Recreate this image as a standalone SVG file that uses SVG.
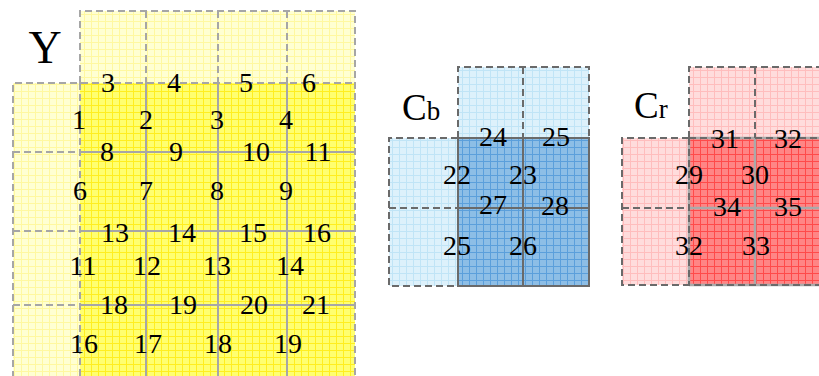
<svg xmlns="http://www.w3.org/2000/svg" width="819" height="376" viewBox="0 0 819 376">
<defs>
<pattern id="pY" width="7" height="7" patternUnits="userSpaceOnUse"><rect width="7" height="7" fill="#FFFF70"/><path d="M0 0.5H7M0.5 0V7" stroke="#FFEE20" stroke-width="1"/></pattern>
<pattern id="pYl" width="7" height="7" patternUnits="userSpaceOnUse"><rect width="7" height="7" fill="#FFFFD2"/><path d="M0 0.5H7M0.5 0V7" stroke="#FFF8A0" stroke-width="1"/></pattern>
<pattern id="pB" width="7" height="7" patternUnits="userSpaceOnUse"><rect width="7" height="7" fill="#8DBEE6"/><path d="M0 0.5H7M0.5 0V7" stroke="#5B9FDB" stroke-width="1"/></pattern>
<pattern id="pBl" width="7" height="7" patternUnits="userSpaceOnUse"><rect width="7" height="7" fill="#DDF1FB"/><path d="M0 0.5H7M0.5 0V7" stroke="#C0E4F6" stroke-width="1"/></pattern>
<pattern id="pR" width="7" height="7" patternUnits="userSpaceOnUse"><rect width="7" height="7" fill="#FF8585"/><path d="M0 0.5H7M0.5 0V7" stroke="#FF4A4A" stroke-width="1"/></pattern>
<pattern id="pRl" width="7" height="7" patternUnits="userSpaceOnUse"><rect width="7" height="7" fill="#FFDCDC"/><path d="M0 0.5H7M0.5 0V7" stroke="#FFBDBD" stroke-width="1"/></pattern>
</defs>
<style>
text{font-family:"Liberation Serif","Times New Roman",serif;fill:#000;}
.n{font-size:28px;text-anchor:middle;}
.dy{fill:none;stroke:#A6A6A6;stroke-width:2;stroke-dasharray:7 4;}
.sy{fill:none;stroke:#A6A6A6;stroke-width:2;}
.dc{fill:none;stroke:#6A6A6A;stroke-width:2;stroke-dasharray:7 4;}
.sc{fill:none;stroke:#6A6A6A;stroke-width:2;}
.sr{fill:none;stroke:#AAAAAA;stroke-width:2.5;}
</style>

<g id="Y">
<rect x="80" y="11" width="275" height="72" fill="url(#pYl)"/>
<rect x="13" y="83" width="67" height="295" fill="url(#pYl)"/>
<rect x="80" y="83" width="275" height="295" fill="url(#pY)"/>
<path class="sy" d="M146 83V378M218 83V378M287 83V378M80 152H355M80 231H355M80 305H355"/>
<path class="dy" d="M80 83V11H355V378M146 11V83M218 11V83M287 11V83M13 378V83H355M80 83V378M13 152H80M13 231H80M13 305H80"/>
<text x="45" y="63" style="font-size:46px" text-anchor="middle">Y</text>
<g class="n">
<text x="108" y="92">3</text><text x="174" y="92">4</text><text x="246" y="92">5</text><text x="309" y="92">6</text>
<text x="79" y="129">1</text><text x="146" y="129">2</text><text x="217" y="129">3</text><text x="286" y="129">4</text>
<text x="107" y="161">8</text><text x="176" y="161">9</text><text x="256" y="161">10</text><text x="318" y="161">11</text>
<text x="80" y="200">6</text><text x="146" y="200">7</text><text x="217" y="200">8</text><text x="286" y="200">9</text>
<text x="115" y="242">13</text><text x="182" y="242">14</text><text x="253" y="242">15</text><text x="317" y="242">16</text>
<text x="83" y="275">11</text><text x="147" y="275">12</text><text x="217" y="275">13</text><text x="290" y="275">14</text>
<text x="114" y="314">18</text><text x="183" y="314">19</text><text x="254" y="314">20</text><text x="316" y="314">21</text>
<text x="84" y="353">16</text><text x="148" y="353">17</text><text x="218" y="353">18</text><text x="288" y="353">19</text>
</g>
</g>

<g id="Cb">
<rect x="458" y="67" width="131" height="71" fill="url(#pBl)"/>
<rect x="389" y="138" width="69" height="148" fill="url(#pBl)"/>
<rect x="458" y="138" width="131" height="148" fill="url(#pB)"/>
<path class="dc" d="M458 138V67H589V138M523 67V138M458 138H389V286H458M389 208H458"/>
<path class="sc" d="M458 138H589V286H458ZM523 138V286M458 208H589"/>
<text x="402" y="120" style="font-size:37px">C<tspan style="font-size:27px">b</tspan></text>
<g class="n">
<text x="493" y="146">24</text><text x="556" y="146">25</text>
<text x="457" y="184">22</text><text x="523" y="184">23</text>
<text x="493" y="214">27</text><text x="555" y="215">28</text>
<text x="457" y="255">25</text><text x="523" y="255">26</text>
</g>
</g>

<g id="Cr">
<rect x="689" y="67" width="135" height="71" fill="url(#pRl)"/>
<rect x="622" y="138" width="67" height="147" fill="url(#pRl)"/>
<rect x="689" y="138" width="135" height="147" fill="url(#pR)"/>
<path class="sr" d="M689 138H824M689 285H824M689 138V285M755 138V285M689 208H824"/>
<path class="dc" d="M689 138V67H824M755 67V138M689 138H824M689 138H622V285H824M622 208H689M689 138V285"/>
<text x="634" y="118" style="font-size:37px">C<tspan style="font-size:27px">r</tspan></text>
<g class="n">
<text x="725" y="148">31</text><text x="788" y="148">32</text>
<text x="689" y="184">29</text><text x="755" y="184">30</text>
<text x="727" y="216">34</text><text x="788" y="216">35</text>
<text x="689" y="255">32</text><text x="756" y="255">33</text>
</g>
</g>
</svg>
